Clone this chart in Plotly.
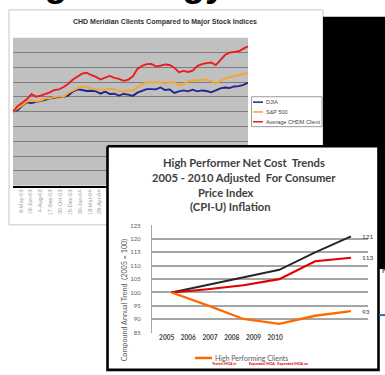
import pandas as pd
import plotly.graph_objects as go

W, H = 385, 375

# ---------------- Stock comparison chart (index, first sample = 100) ----------------
START_DATE = "2003-03-31"
SAMPLE_FREQ = "21D"
djia = [100, 101.1, 104.2, 106.4, 105.8, 106.4, 107.1, 108, 108.9, 109.6, 110, 110,
        111.1, 113.6, 115.1, 114.7, 114, 114.2, 113.8, 112.2, 113.6, 112, 112.2, 110.9,
        112, 111.6, 110.7, 112.9, 114.2, 115.3, 115.3, 115.1, 116.4, 114.7, 115.1, 112.7,
        113.8, 114.4, 113.8, 114.9, 113.8, 114.4, 114, 113.1, 114.4, 115.8, 116.4, 116,
        117.1, 117.3, 118.2, 119.6]
sp500 = [100, 102.4, 104.9, 106.7, 107.8, 106.9, 107.6, 108.9, 108.9, 110, 110.4, 110,
         112.7, 114.2, 116.2, 117.3, 116.7, 115.8, 115.1, 115.1, 114.7, 115.6, 115.3, 113.8,
         113.3, 114.7, 114.4, 116.2, 118.7, 119.8, 119.8, 120, 120, 119.1, 120, 120,
         118, 118.7, 120.7, 121.3, 121.1, 121.6, 121.8, 120.7, 119.1, 120.9, 122.4, 123.3,
         124, 124.7, 125.3, 126.2]
chdm_client = [100, 103.8, 106, 108.4, 111.8, 110.2, 110.9, 111.8, 113.1, 114.7, 115.1, 116.7,
               118.9, 121.8, 124, 125.8, 126.4, 124.7, 123.6, 121.8, 123.1, 124.2, 122.9, 122.2,
               120.9, 121.6, 124, 128.9, 131.1, 132.2, 132.4, 130.7, 131.1, 132, 131.6, 129.8,
               126.7, 127.6, 126.9, 127.8, 130.9, 132.2, 132.9, 133.3, 131.6, 135.1, 138.4, 140,
               140.4, 140.9, 142.7, 144.2]
date_tick_values = ["2003-05-06", "2003-06-19", "2003-08-04", "2003-09-17", "2003-10-30",
                    "2003-12-15", "2004-01-30", "2004-03-18", "2004-04-29"]
date_tick_labels = ["6-May-03", "19-Jun-03", "4-Aug-03", "17-Sep-03", "30-Oct-03",
                    "15-Dec-03", "30-Jan-04", "18-Mar-04", "29-Apr-04"]
stock_series = [("DJIA", djia, "#23238a"),
                ("S&P 500", sp500, "#f6a530"),
                ("Average CHDM Client", chdm_client, "#ec1c1c")]

# ---------------- Net cost trend chart (2005 = 100) ----------------
periods = [0, 1, 2, 3, 4, 5]
year_labels = ["2005", "2006", "2007", "2008", "2009", "2010"]
benchmark_trend = [100, 102.9, 105.8, 108.5, 115, 121]
peer_trend = [100, 101.2, 102.7, 105, 111.7, 113]
high_performing = [100, 95.2, 90.1, 88.3, 91.3, 93]
YEAR_TICK_START, YEAR_TICK_STEP = -0.14, 0.605


def px(x):
    return x / W


def py(y):
    return 1 - y / H


def label(text, x, y, size, color, family="Lato", xanchor="center", yanchor="middle", **kw):
    return dict(text=text, xref="paper", yref="paper", x=px(x), y=py(y),
                xanchor=xanchor, yanchor=yanchor, showarrow=False,
                font=dict(family=family, size=size, color=color), **kw)


dates = pd.date_range(START_DATE, periods=len(djia), freq=SAMPLE_FREQ)

fig = go.Figure()

# stock index lines (subplot 1)
for name, vals, color in stock_series:
    fig.add_trace(go.Scatter(x=dates, y=vals, name=name, mode="lines",
                             line=dict(color=color, width=1.9),
                             xaxis="x", yaxis="y", hoverinfo="skip"))

# overlay card (subplot 2, pixel space) that sits above the stock chart
card_x = [107.5, 378.5, 378.5, 107.5, 107.5]
card_y = [145, 145, 372.8, 372.8, 145]
fig.add_trace(go.Scatter(x=card_x, y=card_y, mode="lines", fill="toself",
                         fillcolor="white", line=dict(color="black", width=2.6),
                         xaxis="x2", yaxis="y2", hoverinfo="skip"))

# net cost trend lines (subplot 3)
for vals, color, width in [(benchmark_trend, "#262626", 1.9),
                           (peer_trend, "#e00000", 2.1),
                           (high_performing, "#ff6a00", 2.3)]:
    fig.add_trace(go.Scatter(x=periods, y=vals, mode="lines",
                             line=dict(color=color, width=width),
                             xaxis="x3", yaxis="y3", hoverinfo="skip"))

shapes = [
    # slide card behind the stock chart
    dict(type="rect", xref="paper", yref="paper", x0=px(9), x1=px(323), y0=py(225), y1=py(6),
         fillcolor="white", line=dict(color="#c6c6c6", width=1), layer="below"),
    # dark panel on the right
    dict(type="rect", xref="paper", yref="paper", x0=px(323), x1=px(386), y0=py(270), y1=py(13),
         fillcolor="black", line=dict(width=0), layer="below"),
    # grey plot area of the stock chart
    dict(type="rect", xref="x domain", yref="y domain", x0=0, x1=1, y0=0, y1=1,
         fillcolor="#c0c0c0", line=dict(width=0), layer="below"),
    # stock chart legend box
    dict(type="rect", xref="paper", yref="paper", x0=px(251.5), x1=px(322), y0=py(125), y1=py(94.5),
         fillcolor="white", line=dict(color="#9a9a9a", width=1), layer="above"),
    # net cost legend swatch
    dict(type="line", xref="paper", yref="paper", x0=px(195), x1=px(212), y0=py(360.7), y1=py(360.7),
         line=dict(color="#ff6a00", width=2.5), layer="above"),
    # blue rule at the right edge
    dict(type="line", xref="paper", yref="paper", x0=px(379), x1=px(386), y0=py(317), y1=py(317),
         line=dict(color="#2e75b6", width=2), layer="above"),
]
for i, (name, vals, color) in enumerate(stock_series):
    yy = 100 + 10 * i
    shapes.append(dict(type="line", xref="paper", yref="paper", x0=px(253), x1=px(263),
                       y0=py(yy), y1=py(yy), line=dict(color=color, width=1.5), layer="above"))

annotations = [
    dict(text="<b>ng Strategy</b>", xref="paper", yref="paper", x=px(20), y=1,
         xanchor="left", yanchor="bottom", yshift=-2, showarrow=False,
         font=dict(family="Liberation Sans", size=37, color="black")),
    label("<b>CHD Meridian Clients Compared to Major Stock Indices</b>", 165, 18.3, 7,
          "#333333", family="Liberation Sans"),
    label("N", 379.5, 272, 8, "black", family="Liberation Sans", xanchor="left"),
]
for i, (name, vals, color) in enumerate(stock_series):
    annotations.append(label(name, 264, 100 + 10 * i, 5.5, "#444444",
                             family="Liberation Sans", xanchor="left"))

title_lines = [("High Performer Net Cost  Trends", 244, 161.7),
               ("2005 - 2010 Adjusted  For Consumer", 243.5, 176.5),
               ("Price Index", 226, 191.7),
               ("(CPI-U) Inflation", 230, 206.7)]
for txt, cx, cy in title_lines:
    annotations.append(label(f"<b>{txt}</b>", cx, cy, 11.2, "#404040"))

annotations += [
    label("Compound Annual Trend  (2005 = 100)", 124, 302, 7.2, "#595959", textangle=-90),
    label("High Performing Clients", 213, 360.7, 7, "#595959", xanchor="left"),
    label("<b>Tested IHOA in</b>", 210, 366.5, 3.6, "#e00000", xanchor="left"),
    label("<b>Expanded IHOA   Expanded IHOA on</b>", 246.5, 366.5, 3.6, "#e00000",
          xanchor="left"),
]
for vals in (benchmark_trend, peer_trend, high_performing):
    annotations.append(dict(text=f"{vals[-1]:g}", xref="x3", yref="y3", x=periods[-1], y=vals[-1],
                            xanchor="left", yanchor="middle", xshift=9, showarrow=False,
                            font=dict(family="Lato", size=6.5, color="#404040")))

year_ticks = [YEAR_TICK_START + YEAR_TICK_STEP * i for i in range(len(year_labels))]

fig.update_layout(
    width=W, height=H, margin=dict(l=0, r=0, t=0, b=0),
    paper_bgcolor="white", plot_bgcolor="rgba(0,0,0,0)", showlegend=False,
    xaxis=dict(domain=[px(13), px(248)], anchor="y", type="date",
               range=[dates[0], dates[-1]], tickvals=date_tick_values, ticktext=date_tick_labels,
               tickangle=-90, tickfont=dict(family="Liberation Sans", size=5.5, color="#9a9a9a"),
               showgrid=False, zeroline=False, showline=True, linecolor="black", linewidth=1.6,
               ticks=""),
    yaxis=dict(domain=[py(185), py(34.5)], anchor="x", range=[50, 150], dtick=10,
               showgrid=True, gridcolor="#7d7d7d", gridwidth=1, showticklabels=False,
               zeroline=False, ticks=""),
    xaxis2=dict(domain=[0, 1], anchor="y2", range=[0, W], visible=False),
    yaxis2=dict(domain=[0, 1], anchor="x2", range=[H, 0], visible=False),
    xaxis3=dict(domain=[px(152), px(368)], anchor="y3", range=[-0.549, 5.474],
                tickvals=year_ticks, ticktext=year_labels, ticks="",
                tickfont=dict(family="Lato", size=6.5, color="#404040", weight="bold"),
                showgrid=False, zeroline=False, showline=False),
    yaxis3=dict(domain=[py(335), py(225.7)], anchor="x3", range=[84.95, 125.05], dtick=5,
                showgrid=True, gridcolor="#a6a6a6", gridwidth=2, zeroline=False,
                showline=True, linecolor="#a6a6a6", linewidth=1, ticks="",
                ticklabelstandoff=9,
                tickfont=dict(family="Lato", size=6, color="#595959")),
    shapes=shapes, annotations=annotations,
)

fig.write_html("out.html")
